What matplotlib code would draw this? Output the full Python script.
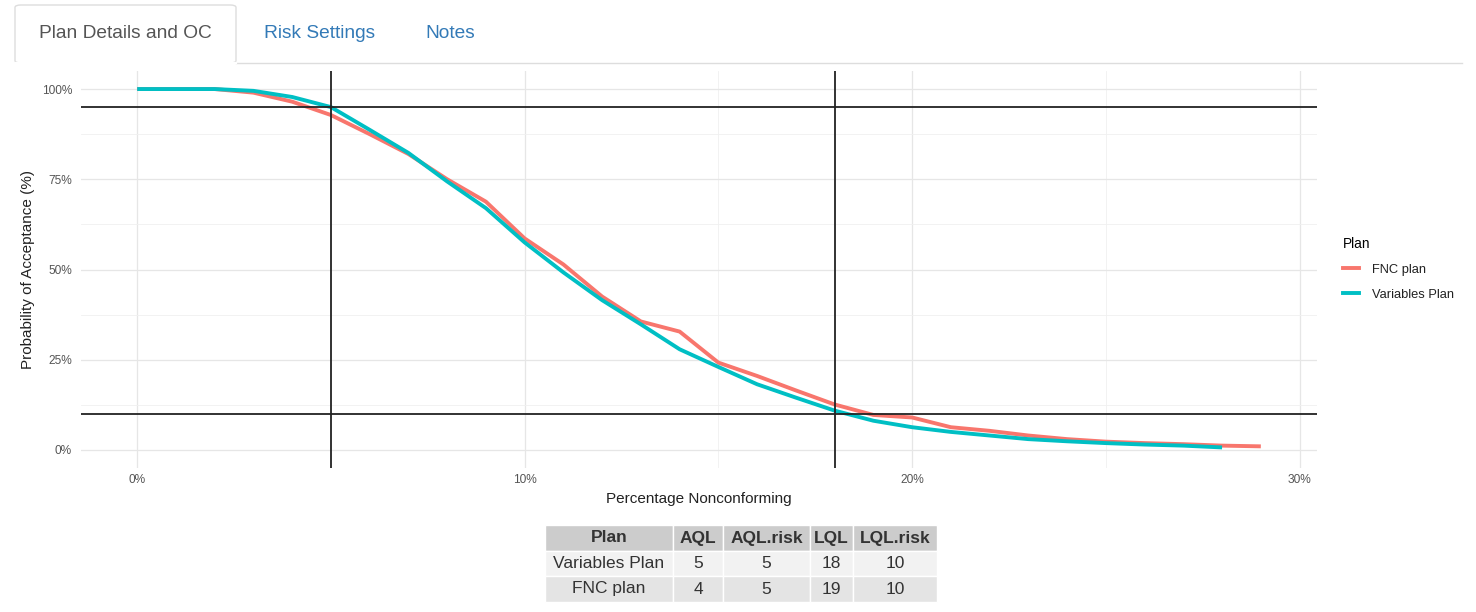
import matplotlib
matplotlib.use("Agg")
import matplotlib.pyplot as plt
from matplotlib.patches import Rectangle, FancyBboxPatch
from matplotlib.lines import Line2D
from matplotlib.ticker import FixedLocator

plt.rcParams['font.family'] = ['Liberation Sans', 'DejaVu Sans']

# ---------------- data ----------------
fnc_pct = list(range(0, 30))
fnc_pa = [100, 100, 100, 99.0, 96.5, 92.8, 87.5, 82.0, 75.0, 68.8, 58.6, 51.4,
          42.5, 35.6, 32.8, 24.2, 20.5, 16.5, 12.6, 9.7, 9.0, 6.3, 5.3, 4.0,
          3.0, 2.3, 1.9, 1.6, 1.2, 1.0]
var_pct = list(range(0, 29))
var_pa = [100, 100, 100, 99.5, 97.8, 95.0, 88.7, 82.3, 74.4, 67.0, 57.5, 49.2,
          41.5, 34.8, 27.9, 23.0, 18.2, 14.5, 10.9, 8.1, 6.3, 5.0, 4.0, 3.0,
          2.4, 1.9, 1.5, 1.2, 0.7]
aql_lines = [5, 18]
risk_lines = [95, 10]

x_ticks = [0, 10, 20, 30]
x_tick_labels = ["0%", "10%", "20%", "30%"]
y_ticks = [0, 25, 50, 75, 100]
y_tick_labels = ["0%", "25%", "50%", "75%", "100%"]

series_names = ["FNC plan", "Variables Plan"]
series_colors = ["#F8766D", "#00BFC4"]

tabs = ["Plan Details and OC", "Risk Settings", "Notes"]

table_header = ["Plan", "AQL", "AQL.risk", "LQL", "LQL.risk"]
table_rows = [["Variables Plan", "5", "5", "18", "10"],
              ["FNC plan", "4", "5", "19", "10"]]

# ---------------- figure ----------------
W, H = 1476, 612
fig = plt.figure(figsize=(W / 100, H / 100), dpi=100)

def fx(px):
    return px / W

def fy(py):
    return 1 - py / H

# plot panel
left, right, top, bottom = 81, 1317, 71, 468
ax = fig.add_axes([fx(left), fy(bottom), fx(right - left), (bottom - top) / H])
ax.set_xlim(-1.45, 30.45)
ax.set_ylim(-5, 105)
for s in ax.spines.values():
    s.set_visible(False)

ax.xaxis.set_major_locator(FixedLocator(x_ticks))
ax.xaxis.set_minor_locator(FixedLocator([5, 15, 25]))
ax.yaxis.set_major_locator(FixedLocator(y_ticks))
ax.yaxis.set_minor_locator(FixedLocator([12.5, 37.5, 62.5, 87.5]))
ax.set_xticklabels(x_tick_labels)
ax.set_yticklabels(y_tick_labels)
ax.grid(True, which='major', color='#e6e6e6', lw=0.9)
ax.grid(True, which='minor', color='#f0f0f0', lw=0.6)
ax.set_axisbelow(True)
ax.tick_params(axis='both', which='both', length=0, labelsize=8.6,
               labelcolor='#555555')
ax.tick_params(axis='y', pad=6.5)
ax.tick_params(axis='x', pad=4)

ax.plot(fnc_pct, fnc_pa, color=series_colors[0], lw=2.8, solid_capstyle='butt',
        zorder=3)
ax.plot(var_pct, var_pa, color=series_colors[1], lw=2.8, solid_capstyle='butt',
        zorder=4)
for v in aql_lines:
    ax.axvline(v, color='#222222', lw=1.3, zorder=5)
for h in risk_lines:
    ax.axhline(h, color='#222222', lw=1.3, zorder=5)

ax.set_xlabel("Percentage Nonconforming", fontsize=11, color='#222222',
              labelpad=5)
ax.set_ylabel("Probability of Acceptance (%)", fontsize=11, color='#222222',
              labelpad=5)

# legend
handles = [Line2D([], [], color=c, lw=2.8) for c in series_colors]
leg = fig.legend(handles, series_names, title="Plan", loc='upper left',
                 bbox_to_anchor=(fx(1331), fy(225)), frameon=False,
                 fontsize=9.3, title_fontsize=9.8, handlelength=1.3,
                 handletextpad=0.95, labelspacing=1.0, alignment='left')
for t in leg.get_texts():
    t.set_color('#222222')

# ---------------- tabs ----------------
tab_line_y = fy(63)
fig.add_artist(Line2D([fx(236), fx(1462)], [tab_line_y, tab_line_y],
                      color='#dddddd', lw=1.0))
fig.add_artist(FancyBboxPatch((fx(15), fy(63)), fx(221), (63 - 5) / H,
                              boxstyle="round,pad=0,rounding_size=0.004",
                              facecolor='white', edgecolor='#dddddd', lw=1.0))
fig.add_artist(Line2D([fx(15.5), fx(235.5)], [tab_line_y, tab_line_y],
                      color='white', lw=1.6))
tab_centers = [125, 320, 450]
tab_colors = ['#555555', '#337ab7', '#337ab7']
for name, cx, col in zip(tabs, tab_centers, tab_colors):
    fig.text(fx(cx), fy(34), name, ha='center', va='center', fontsize=13.8,
             color=col)

# ---------------- table ----------------
col_edges = [545, 673, 723, 810, 853, 937]
row_edges = [525, 551, 576, 602]
row_colors = ['#cccccc', '#f2f2f2', '#e4e4e4']
all_rows = [table_header] + table_rows
for r, row in enumerate(all_rows):
    y0, y1 = row_edges[r], row_edges[r + 1]
    for c, val in enumerate(row):
        x0, x1 = col_edges[c], col_edges[c + 1]
        fig.add_artist(Rectangle((fx(x0), fy(y1)), fx(x1 - x0), (y1 - y0) / H,
                                 facecolor=row_colors[r], edgecolor='white',
                                 lw=1.0))
        fig.text(fx((x0 + x1) / 2), fy((y0 + y1) / 2), val, ha='center',
                 va='center', fontsize=12.5, color='#333333',
                 fontweight='bold' if r == 0 else 'normal')

fig.savefig("out.png", dpi=100)
